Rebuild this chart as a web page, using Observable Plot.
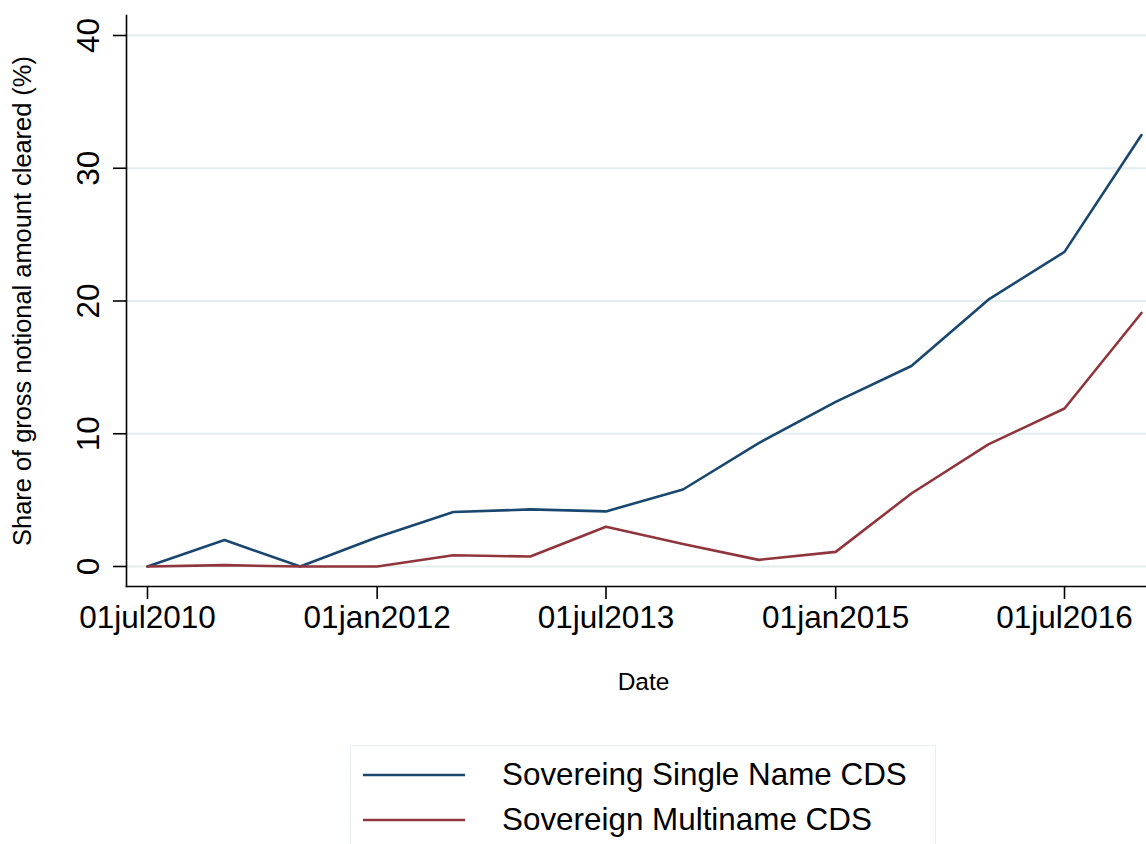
<!DOCTYPE html>
<html>
<head>
<meta charset="utf-8">
<script src="https://cdn.jsdelivr.net/npm/d3@7"></script>
<script src="https://cdn.jsdelivr.net/npm/@observablehq/plot@0.6"></script>
<style>
  html, body { margin: 0; padding: 0; background: #fff; }
  body { width: 1146px; height: 844px; overflow: hidden; font-family: "Liberation Sans", Arial, Helvetica, sans-serif; }
  #legend { position: absolute; left: 350px; top: 745px; width: 586px; height: 120px; border: 1.5px solid #e6eef0; box-sizing: border-box; background: #fff; }
  .item { position: absolute; left: 0; height: 40px; }
  .item svg { position: absolute; left: 12px; top: 0; }
  .item span { position: absolute; left: 151px; font-size: 31.4px; color: #000; white-space: nowrap; line-height: 40px; top: 0; }
</style>
</head>
<body>
<div id="chart"></div>
<div id="legend"></div>
<script>
// Data (semiannual observations)
const dates = ["2010-07-01","2011-01-01","2011-07-01","2012-01-01","2012-07-01","2013-01-01","2013-07-01",
               "2014-01-01","2014-07-01","2015-01-01","2015-07-01","2016-01-01","2016-07-01","2017-01-01"];
const singleName = [0, 2.0, 0, 2.2, 4.1, 4.3, 4.15, 5.8, 9.3, 12.4, 15.1, 20.1, 23.7, 32.5];
const multiName  = [0, 0.1, 0, 0, 0.85, 0.75, 3.0, 1.7, 0.5, 1.1, 5.5, 9.2, 11.9, 19.1];
const seriesNames = ["Sovereing Single Name CDS", "Sovereign Multiname CDS"];
const seriesColors = ["#1a476f", "#90353b"];
const xTicks = ["2010-07-01","2012-01-01","2013-07-01","2015-01-01","2016-07-01"];
const yTicks = [0, 10, 20, 30, 40];

const rows = [];
dates.forEach((d, i) => {
  rows.push({date: new Date(d), value: singleName[i], series: seriesNames[0]});
  rows.push({date: new Date(d), value: multiName[i], series: seriesNames[1]});
});
const fmt = d => d3.utcFormat("%d%b%Y")(d).toLowerCase();

const font = "'Liberation Sans', Arial, Helvetica, sans-serif";
const plot = Plot.plot({
  width: 1146,
  height: 720,
  marginLeft: 126,
  marginRight: 0,
  marginTop: 15,
  marginBottom: 134,
  style: {fontFamily: font, fontSize: "31px", color: "#000", background: "#fff"},
  x: {type: "utc", domain: [new Date(xTicks[0]), new Date(xTicks[4])], range: [147, 1064]},
  y: {domain: [0, 40], range: [566, 35]},
  color: {domain: seriesNames, range: seriesColors},
  marks: [
    Plot.gridY(yTicks, {stroke: "#e3edef", strokeOpacity: 1, strokeWidth: 2}),
    Plot.frame({anchor: "left", stroke: "#000", strokeWidth: 1.6}),
    Plot.frame({anchor: "bottom", stroke: "#000", strokeWidth: 1.6}),
    Plot.axisY(yTicks, {tickSize: 13, tickRotate: -90, tickPadding: 15, fontSize: 31.5, label: null, strokeWidth: 1.6}),
    Plot.axisX(xTicks.map(d => new Date(d)), {tickSize: 13, tickPadding: 6, tickFormat: fmt, fontSize: 31.5, label: null, strokeWidth: 1.6}),
    Plot.text(["Date"], {frameAnchor: "bottom", dy: 96, dx: 7, lineAnchor: "middle", fontSize: 24.5, fill: "#000"}),
    Plot.text(["Share of gross notional amount cleared (%)"], {frameAnchor: "left", dx: -104, rotate: -90, lineAnchor: "middle", textAnchor: "middle", fontSize: 25.4, fill: "#000"}),
    Plot.line(rows, {x: "date", y: "value", stroke: "series", strokeWidth: 2.6, curve: "linear"})
  ]
});
document.getElementById("chart").appendChild(plot);

// Legend
const legend = document.getElementById("legend");
seriesNames.forEach((name, i) => {
  const item = document.createElement("div");
  item.className = "item";
  item.style.top = (9 + i * 45) + "px";
  item.style.width = "100%";
  item.innerHTML = `<svg width="102" height="40"><line x1="0" x2="102" y1="20" y2="20" stroke="${seriesColors[i]}" stroke-width="2.6"/></svg><span>${name}</span>`;
  legend.appendChild(item);
});
</script>
</body>
</html>
